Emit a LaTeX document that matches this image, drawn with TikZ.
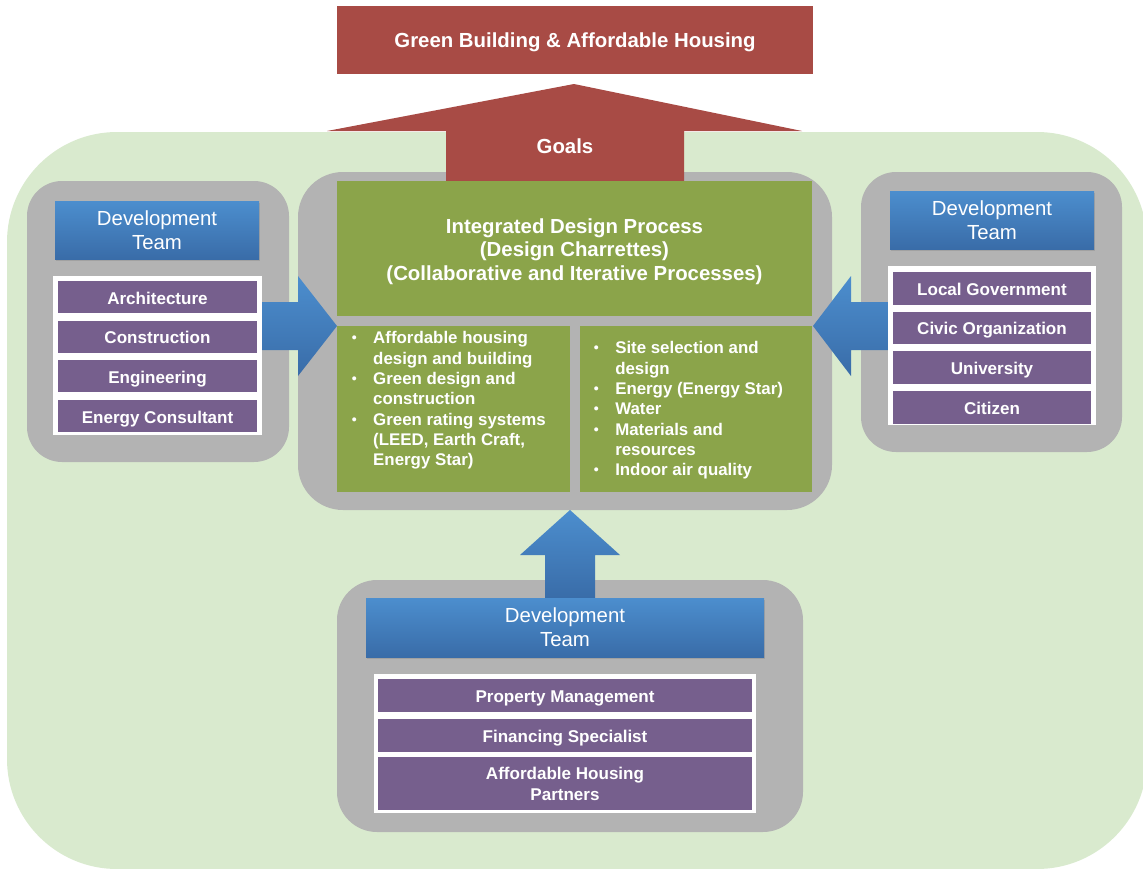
\documentclass[tikz,border=0pt]{standalone}
\usepackage{fontspec}
\setmainfont{Liberation Sans}
\usetikzlibrary{positioning,shadows}

\definecolor{bggreen}{RGB}{217,234,206}
\definecolor{panelgray}{RGB}{179,179,179}
\definecolor{goalred}{RGB}{168,75,69}
\definecolor{olivebox}{RGB}{139,164,74}
\definecolor{rowpurple}{RGB}{118,95,141}
\definecolor{bluetop}{RGB}{76,142,206}
\definecolor{bluebot}{RGB}{57,108,168}

\newcommand{\blt}{\makebox[13.6pt][l]{\hspace{1.5pt}\raisebox{0.6pt}{\fontsize{8}{8}\selectfont\textbullet}}}

\begin{document}
\begin{tikzpicture}[x=0.02cm,y=-0.02cm]
\tikzset{
  sz/.style 2 args={minimum width=#1*0.02cm, minimum height=#2*0.02cm},
  panel/.style={fill=panelgray, rounded corners=#1},
  redbox/.style={fill=goalred, text=white, inner sep=0, text height=0.9em, text depth=0.1em,
    font=\fontsize{11.6}{13.6}\selectfont\bfseries},
  greenbox/.style={fill=olivebox, text=white, inner sep=0, align=center},
  teamhead/.style={top color=bluetop, bottom color=bluebot, text=white, align=center, inner sep=0,
    font=\fontsize{11.6}{13.6}\selectfont, drop shadow={shadow xshift=0.4pt, shadow yshift=-1.2pt, opacity=.35}},
  listframe/.style={fill=white, inner sep=0},
  member/.style={fill=rowpurple, text=white, align=center, inner sep=0, font=\fontsize{9.7}{11.9}\selectfont\bfseries},
  oneline/.style={text height=0.9em, text depth=0.1em},
  bluearrow/.style={top color=bluetop, bottom color=bluebot},
  bullets/.style={text=white, inner sep=0, anchor=north west, align=left, font=\fontsize{9.6}{11.6}\selectfont\bfseries}
}

\useasboundingbox (0,0) rectangle (1143,869);
\clip (0,0) rectangle (1143,869);
\fill[bggreen, rounded corners=2.2cm] (7,132) rectangle (1147,869);

\fill[panel=0.7cm] (27,181) rectangle (289,462);
\fill[panel=0.7cm] (861,172) rectangle (1122,452);
\fill[panel=0.8cm] (337,580) rectangle (803,832);
\fill[panel=0.9cm] (298,172) rectangle (832,510);

\fill[goalred] (446,186) -- (446,131) -- (327,131) -- (574,84) -- (802,131) -- (684,131) -- (684,186) -- cycle;
\node[redbox, sz={476}{68}] (goal) at (575,40) {Green Building \& Affordable Housing};
\node[text=white, inner sep=0, font=\fontsize{11.6}{13.6}\selectfont\bfseries] (goals) at (565,146) {Goals};

\path[bluearrow] (262,302) -- (298,302) -- (298,276) -- (337,326) -- (298,376) -- (298,350) -- (262,350) -- cycle;
\path[bluearrow] (889,302) -- (851,302) -- (851,276) -- (813,326) -- (851,376) -- (851,350) -- (889,350) -- cycle;
\path[bluearrow] (545,599) -- (545,555) -- (520,555) -- (570,510) -- (620,555) -- (595,555) -- (595,599) -- cycle;

\node[greenbox, sz={475}{135}] (idp) at (574.5,248.5) {};
\node[text=white, inner sep=0, align=center, font=\fontsize{11.6}{13.4}\selectfont\bfseries, yshift=-0.06cm] (idptxt) at (idp.center)
  {Integrated Design Process\\(Design Charrettes)\\(Collaborative and Iterative Processes)};
\node[greenbox, sz={233}{166}] (scope) at (453.5,409) {};
\node[greenbox, sz={232}{166}] (topics) at (696,409) {};
\node[bullets] (scopetxt) at (349,329) {\begin{tabular}{@{}l@{}l@{}}
  \blt & Affordable housing\\
       & design and building\\
  \blt & Green design and\\
       & construction\\
  \blt & Green rating systems\\
       & (LEED, Earth Craft,\\
       & Energy Star)
\end{tabular}};
\node[bullets] (topicstxt) at (591,339) {\begin{tabular}{@{}l@{}l@{}}
  \blt & Site selection and\\
       & design\\
  \blt & Energy (Energy Star)\\
  \blt & Water\\
  \blt & Materials and\\
       & resources\\
  \blt & Indoor air quality
\end{tabular}};

\node[teamhead, sz={204}{58}] (lhead) at (157,230) {Development\\Team};
\node[listframe, sz={209}{159}] (lframe) at (157.5,355.5) {};
\node[member, oneline, sz={199}{32}, below=0.1cm of lframe.north] (arch) {Architecture};
\node[member, oneline, sz={199}{32}, below=0.14cm of arch] (cons) {Construction};
\node[member, oneline, sz={199}{32}, below=0.14cm of cons] (engi) {Engineering};
\node[member, oneline, sz={199}{32}, below=0.14cm of engi] (ener) {Energy Consultant};

\node[teamhead, sz={204}{58}] (rhead) at (992,220) {Development\\Team};
\node[listframe, sz={208}{159}] (rframe) at (992,345.5) {};
\node[member, oneline, sz={198}{32.5}, below=0.12cm of rframe.north] (locg) {Local Government};
\node[member, oneline, sz={198}{32.5}, below=0.13cm of locg] (civo) {Civic Organization};
\node[member, oneline, sz={198}{32.5}, below=0.13cm of civo] (univ) {University};
\node[member, oneline, sz={198}{32.5}, below=0.13cm of univ] (citi) {Citizen};

\node[teamhead, sz={398}{59}] (bhead) at (565,627.5) {Development\\Team};
\node[listframe, sz={382}{139}] (bframe) at (565,743.5) {};
\node[member, oneline, sz={374}{33}, below=0.1cm of bframe.north] (prop) {Property Management};
\node[member, oneline, sz={374}{33}, below=0.12cm of prop] (fina) {Financing Specialist};
\node[member, sz={374}{53}, below=0.1cm of fina] (ahp) {Affordable Housing\\Partners};
\end{tikzpicture}
\end{document}
